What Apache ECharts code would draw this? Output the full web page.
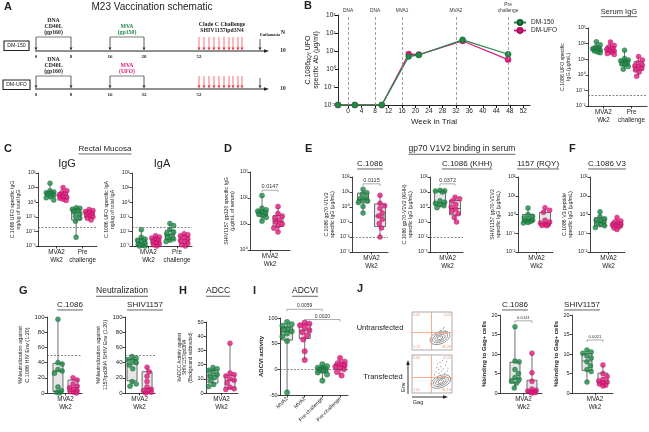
<!DOCTYPE html>
<html><head><meta charset="utf-8">
<script src="https://cdn.jsdelivr.net/npm/echarts@6/dist/echarts.min.js"></script>
<style>html,body{margin:0;padding:0;background:#fff}#c{width:649px;height:432px}</style>
</head><body><div id="c"></div>
<script>
// ================= DATA =================
// Panel A (schematic)
const schemGroups = ['DM-150', 'DM-UFO'];
const schemWeeksRow1 = ['0', '8', '16', '28', '52'];
const schemWeeksRow2 = ['0', '8', '16', '32', '52'];
const schemN = ['10', '10'];
// Panel B
const bWeeks = [-3, 2, 10, 18, 21, 34, 47.5];
const bDM150 = [0.01, 0.01, 0.01, 5.0, 6.0, 42, 6.6];
const bDMUFO = [0.01, 0.01, 0.01, 6.8, 6.3, 36, 3.3];
const bEventWeeks = [0, 8, 16, 32, 47.5];
const bEventLabels = ['DNA', 'DNA', 'MVA1', 'MVA2', 'Pre\nchallenge'];
const bTicks = [0, 4, 8, 12, 16, 20, 24, 28, 32, 36, 40, 44, 48, 52];
// Category labels
const twoGroupLabels = ['MVA2\nWk2', 'Pre\nchallenge'];
const oneGroupLabels = ['MVA2\nWk2'];
const adcviLabels = ['MVA2', 'MVA2', 'Pre-challenge', 'Pre-challenge'];
// Serum IgG (green MVA2, pink MVA2, green Pre, pink Pre)
const serumPts = [
  [130, 85, 60, 52, 46, 42, 38, 33, 29, 26],
  [125, 75, 62, 48, 42, 38, 33, 27, 23, 20],
  [38, 11, 9, 8, 7, 6, 5, 4.5, 3.4, 2.3],
  [15, 9, 6, 4.2, 3.6, 3.1, 2.6, 2, 1.5, 0.8]];
const serumBox = [[26, 32, 44, 62, 130], [20, 28, 40, 68, 125], [2.3, 4, 6.5, 9, 38], [0.8, 1.9, 3.3, 7, 15]];
const serumCutoff = 0.05;
// C Rectal IgG
const cIggPts = [
  [20, 6, 5, 4.5, 4, 3.5, 3, 2.5, 2, 1.4],
  [10, 6, 4.5, 4, 3.2, 2.6, 2.2, 1.9, 1.6, 1.3],
  [0.42, 0.38, 0.33, 0.28, 0.22, 0.16, 0.11, 0.08, 0.05, 0.004],
  [0.32, 0.27, 0.23, 0.2, 0.17, 0.14, 0.12, 0.1, 0.08, 0.06]];
const cIggBox = [[1.4, 2.4, 3.7, 5.2, 20], [1.3, 1.8, 2.9, 4.5, 10], [0.004, 0.06, 0.19, 0.34, 0.42], [0.06, 0.09, 0.15, 0.24, 0.32]];
// C Rectal IgA
const cIgaPts = [
  [0.013, 0.004, 0.003, 0.0025, 0.002, 0.0016, 0.0013, 0.0011, 0.001, 0.001],
  [0.005, 0.0042, 0.0035, 0.003, 0.0025, 0.002, 0.0017, 0.0014, 0.0012, 0.001],
  [0.035, 0.025, 0.013, 0.009, 0.007, 0.005, 0.004, 0.003, 0.0025, 0.002],
  [0.007, 0.006, 0.005, 0.004, 0.003, 0.0024, 0.002, 0.0015, 0.0012, 0.001]];
const cIgaBox = [[0.001, 0.0011, 0.0018, 0.003, 0.013], [0.001, 0.0013, 0.0022, 0.0033, 0.005], [0.002, 0.0028, 0.006, 0.012, 0.035], [0.001, 0.0015, 0.0027, 0.0048, 0.007]];
const mucosaCutoff = 0.02;
// D
const dPts = [[125, 40, 35, 31, 28, 26, 24, 21, 18, 13], [47, 25, 20, 17, 14, 12, 10, 8.5, 7, 5]];
const dBox = [[13, 20, 26, 33, 125], [5, 8, 12.5, 21, 47]];
const dP = ['0.0147'];
// E C.1086
const e1Pts = [[15, 9, 7, 4, 3.5, 3, 2.5, 2, 1.1, 0.4], [6, 1.8, 1.2, 0.8, 0.4, 0.25, 0.15, 0.08, 0.04, 0.01]];
const e1Box = [[0.4, 1.9, 3.2, 8.5, 15], [0.01, 0.05, 0.25, 1.6, 6]];
const e1P = ['0.0115'];
// E C.1086 (KHH)
const e2Pts = [[13, 12, 11.5, 10, 2.6, 2.1, 1.8, 1.5, 1.2, 0.9], [4.5, 3.5, 2.5, 1.5, 1.0, 0.7, 0.5, 0.35, 0.2, 0.1]];
const e2Box = [[0.9, 1.2, 1.9, 11.5, 13], [0.1, 0.3, 0.8, 2.7, 4.5]];
const e2P = ['0.0372'];
const eCutoff = 0.01;
// E 1157 (RQY)
const e3Pts = [[2.2, 1.0, 0.8, 0.65, 0.55, 0.5, 0.45, 0.42, 0.38, 0.35], [2.3, 1.7, 1.3, 0.5, 0.4, 0.35, 0.3, 0.28, 0.26, 0.25]];
const e3Box = [[0.35, 0.4, 0.52, 1.0, 2.2], [0.25, 0.27, 0.33, 1.3, 2.3]];
// F
const fPts = [[1.4, 0.75, 0.6, 0.5, 0.45, 0.4, 0.35, 0.3, 0.25, 0.2], [0.7, 0.45, 0.4, 0.35, 0.3, 0.28, 0.25, 0.22, 0.19, 0.16]];
const fBox = [[0.2, 0.24, 0.4, 0.68, 1.4], [0.16, 0.21, 0.28, 0.4, 0.7]];
// G neutralization
const g1Pts = [[97, 40, 38, 31, 29, 26, 8, 3, 1, 0], [20, 17, 12, 9, 7, 5, 3, 2, 1, 0]];
const g1Box = [[0, 2, 29, 39, 97], [0, 2, 7, 17, 20]];
const g2Pts = [[48, 46, 44, 42, 40, 37, 32, 15, 12, 9], [34, 28, 22, 15, 8, 5, 3, 2, 1, 0]];
const g2Box = [[9, 16, 38, 44, 48], [0, 1.5, 6, 28, 34]];
const neutCutoff = 50;
// H ADCC
const hPts = [[18, 17, 16, 15, 13, 12, 11, 9, 6, 4.5], [35, 14, 13, 12, 10, 9, 7, 4, 3, 2.5]];
const hBox = [[4.5, 7, 12.5, 16, 18], [2.5, 3.5, 9, 12.5, 35]];
// I ADCVI
const iPts = [
  [92, 88, 85, 80, 77, 74, 70, 64, 55, -45],
  [91, 89, 86, 82, 76, 72, 66, 58, 35, 18],
  [10, 6, 3, 2, 0, -1, -3, -6, -10, -22],
  [22, 15, 12, 10, 8, 5, 3, 0, -5, -12]];
const iBox = [[-45, 57, 73, 82, 92], [18, 60, 76, 88, 91], [-22, -6, -0.5, 3, 10], [-12, 0, 6, 11, 22]];
const iP = ['0.0059', '0.0020'];
// J
const j1Pts = [[17, 8.2, 8, 6, 5, 4, 3.5, 3, 2.5, 1.3], [10.2, 5.2, 3, 1, 0.7, 0.5, 0.3, 0.2, 0.1, 0]];
const j1Box = [[1.3, 2.6, 3.6, 7.9, 17], [0, 0.15, 0.6, 3.3, 10.2]];
const j1P = ['0.0141'];
const j2Pts = [[11, 10.5, 10.2, 9.5, 9, 8, 7, 6, 5.5, 2.8], [7.2, 5, 4.2, 3.5, 3.1, 2.8, 2.5, 2.3, 2, 1.8]];
const j2Box = [[2.8, 5.8, 8.2, 10.1, 11], [1.8, 2.3, 3, 5.1, 7.2]];
const j2P = ['0.0021'];
// Flow plots (J)
const flowUntransQ = ['0.00', '0.00', '1.12', '98.28'];
const flowTransQ = ['0.00', '7.20', '2.61', '90.18'];
const flowUntransCenter = [70, 32];
const flowTransCenter = [72, 30];
const flowUntransDots = [[72, 52], [78, 56], [84, 50], [66, 46], [88, 44], [80, 60], [60, 40]];
const flowTransDots = [[60, 55], [66, 62], [72, 70], [78, 64], [84, 74], [70, 80], [62, 68], [88, 58], [76, 86], [82, 52], [68, 52], [74, 58], [90, 66], [64, 76], [80, 92], [56, 48], [86, 82]];
const flowUntransGate = [47, 47];
const flowTransGate = [47, 42];

// ================= STYLE / LAYOUT =================
const GREEN = '#1f8a47', PINK = '#e3197d', GREEN_D = '#0e5a2b', PINK_D = '#9e0f55';
const FONT = 'Liberation Sans, Arial, Helvetica, sans-serif';
const SERIF = 'Liberation Serif, DejaVu Serif, serif';
const grids = [], xAxes = [], yAxes = [], series = [], graphics = [];
const SUP = {'-': '\u207B', '0': '\u2070', '1': '\u00B9', '2': '\u00B2', '3': '\u00B3', '4': '\u2074'};
function supFmt(v) { const e = Math.round(Math.log10(v)); return '10' + String(e).split('').map(c => SUP[c]).join(''); }

const measureCtx = document.createElement('canvas').getContext('2d');
function txt(x, y, text, o) {
  o = o || {};
  const st = {text: text, fill: o.color || '#222', fontSize: o.size || 6, fontFamily: o.font || FONT,
    fontWeight: o.weight || 'normal', align: o.align || 'center', verticalAlign: o.va || 'middle',
    textAlign: o.align || 'center', textVerticalAlign: o.va || 'middle'};
  if (o.lh) st.lineHeight = o.lh;
  graphics.push({type: 'text', x: x, y: y, silent: true, z: 100, style: st});
  if (o.underline) {
    measureCtx.font = (o.weight || 'normal') + ' ' + (o.size || 6) + 'px ' + (o.font || FONT);
    const w = measureCtx.measureText(text).width;
    seg(x - w / 2, y + (o.size || 6) * 0.62, x + w / 2, y + (o.size || 6) * 0.62, '#222', 0.7);
  }
}
function seg(x1, y1, x2, y2, color, w, dash) {
  graphics.push({type: 'line', silent: true, z: 100, shape: {x1, y1, x2, y2}, style: {stroke: color || '#222', lineWidth: w || 0.8, lineDash: dash || null}});
}
function tri(points, color) { graphics.push({type: 'polygon', silent: true, z: 100, shape: {points}, style: {fill: color}}); }
function arrowDown(x, y1, y2, color, w) { seg(x, y1, x, y2 - 2.5, color, w || 0.8); tri([[x - 1.5, y2 - 3], [x + 1.5, y2 - 3], [x, y2]], color); }

// deterministic compact swarm: keep points inside the box width, allow overlap like the reference
function swarm(vals, center, p, size) {
  const H = p.b - p.t, W = p.r - p.l, unit = W / (p.xmax - p.xmin);
  const toPx = v => p.log ? (Math.log10(v) - Math.log10(p.ymin)) / (Math.log10(p.ymax) - Math.log10(p.ymin)) * H
                          : (v - p.ymin) / (p.ymax - p.ymin) * H;
  const maxOff = p.boxW * 0.42;
  const placed = [], out = [];
  vals.forEach(v => {
    const py = toPx(v);
    let best = 0, bestScore = -Infinity;
    for (let k = 0; k <= 12; k++) {
      const cand = k === 0 ? 0 : (k % 2 ? 1 : -1) * Math.ceil(k / 2) * (maxOff / 6);
      let dmin = size;
      placed.forEach(q => { dmin = Math.min(dmin, Math.hypot(q[0] - cand, q[1] - py)); });
      const score = dmin - Math.abs(cand) * 0.15;
      if (score > bestScore + 1e-9) { bestScore = score; best = cand; }
    }
    placed.push([best, py]);
    out.push([center + best / unit, v]);
  });
  return out;
}

function boxRenderer(w) {
  return function (params, api) {
    const x = api.value(0);
    const c = [1, 2, 3, 4, 5].map(d => api.coord([x, api.value(d)]));
    const cx = c[0][0];
    const st = {stroke: '#333', lineWidth: 0.7};
    return {type: 'group', children: [
      {type: 'line', shape: {x1: cx, y1: c[0][1], x2: cx, y2: c[1][1]}, style: st},
      {type: 'line', shape: {x1: cx, y1: c[3][1], x2: cx, y2: c[4][1]}, style: st},
      {type: 'rect', shape: {x: cx - w / 2, y: c[3][1], width: w, height: c[1][1] - c[3][1]}, style: {fill: '#e6e6e6', stroke: '#333', lineWidth: 0.7}},
      {type: 'line', shape: {x1: cx - w / 2, y1: c[2][1], x2: cx + w / 2, y2: c[2][1]}, style: st}
    ]};
  };
}
function bracketRenderer(labels, fs) {
  return function (params, api) {
    const a = api.coord([api.value(0), api.value(2)]), b = api.coord([api.value(1), api.value(2)]);
    return {type: 'group', children: [
      {type: 'polyline', shape: {points: [[a[0], a[1] + 2], [a[0], a[1]], [b[0], b[1]], [b[0], b[1] + 2]]}, style: {stroke: '#888', lineWidth: 0.7, fill: null}},
      {type: 'text', x: (a[0] + b[0]) / 2, y: a[1] - 0.8, style: {text: labels[params.dataIndex], fontSize: fs, fill: '#333', fontFamily: FONT, align: 'center', verticalAlign: 'bottom'}}
    ]};
  };
}

function addBoxPanel(p, pts, box, labels, labelPos) {
  const gi = grids.length;
  grids.push({left: p.l, top: p.t, width: p.r - p.l, height: p.b - p.t});
  xAxes.push({type: 'value', gridIndex: gi, min: p.xmin, max: p.xmax, splitLine: {show: false},
    axisLine: {onZero: false, lineStyle: {color: '#111', width: 0.8}},
    axisTick: {customValues: labelPos, length: 2.5, lineStyle: {color: '#111', width: 0.8}},
    axisLabel: {customValues: labelPos, formatter: v => labels[labelPos.indexOf(v)], fontSize: p.xfs || 6.3, color: '#222', lineHeight: 7.5, margin: 3, rotate: p.rotate || 0}});
  yAxes.push({type: p.log ? 'log' : 'value', logBase: 10, gridIndex: gi, min: p.ymin, max: p.ymax, interval: p.log ? undefined : p.interval,
    splitLine: {show: false}, axisLine: {show: true, onZero: false, lineStyle: {color: '#111', width: 0.8}},
    axisTick: {show: true, length: 2.5, lineStyle: {color: '#111', width: 0.8}},
    axisLabel: {fontSize: p.yfs || 5.2, color: '#222', margin: 2.5, formatter: p.log ? supFmt : null},
    name: p.yName, nameLocation: 'middle', nameGap: p.nameGap, nameTextStyle: {fontSize: p.nfs || 5.2, lineHeight: p.nlh || 6.5, color: '#222', fontWeight: p.nfw || 'normal'}});
  series.push({type: 'custom', xAxisIndex: gi, yAxisIndex: gi, silent: true, clip: false, z: 2,
    data: box.map((b, i) => [i + 1].concat(b)), encode: {x: 0, y: [1, 2, 3, 4, 5]}, renderItem: boxRenderer(p.boxW)});
  const ps = p.ps || 5;
  const gData = [], pData = [];
  pts.forEach((vals, i) => { (i % 2 === 0 ? gData : pData).push(...swarm(vals, i + 1, p, ps)); });
  const ml = p.dash !== undefined ? {symbol: 'none', silent: true, label: {show: false}, lineStyle: {type: [2, 1.5], color: '#555', width: 0.7}, data: [{yAxis: p.dash}]} : undefined;
  series.push({type: 'scatter', xAxisIndex: gi, yAxisIndex: gi, silent: true, z: 3, symbolSize: ps, data: gData,
    itemStyle: {color: GREEN, borderColor: GREEN_D, borderWidth: 0.4}, markLine: ml});
  series.push({type: 'scatter', xAxisIndex: gi, yAxisIndex: gi, silent: true, z: 3, symbolSize: ps, data: pData,
    itemStyle: {color: PINK, borderColor: PINK_D, borderWidth: 0.4}});
  if (p.brackets) {
    series.push({type: 'custom', xAxisIndex: gi, yAxisIndex: gi, silent: true, clip: false, z: 4,
      data: p.brackets, encode: {x: [0, 1], y: 2}, renderItem: bracketRenderer(p.pLabels, p.pfs || 5.5)});
  }
}

// ---------- Panel A : schematic ----------
txt(4, 7, 'A', {size: 11, weight: 'bold', align: 'left'});
txt(152, 7, 'M23 Vaccination schematic', {size: 10});
const rowY = [51, 89], rowTop = [37, 76], boxRect = [[4, 41, 25, 9.5], [3, 80, 27, 9.5]];
const armX = [36, 71, 110, 144], chalX = [199, 204, 209, 214, 219, 224, 229, 233, 238, 242], euthX = 260;
[0, 1].forEach(r => {
  const y = rowY[r];
  graphics.push({type: 'rect', silent: true, z: 100, shape: {x: boxRect[r][0], y: boxRect[r][1], width: boxRect[r][2], height: boxRect[r][3]}, style: {fill: '#fff', stroke: '#222', lineWidth: 1.1}});
  txt(boxRect[r][0] + boxRect[r][2] / 2, boxRect[r][1] + boxRect[r][3] / 2, schemGroups[r], {size: 5.2});
  seg(35, y, 266, y, '#222', 1.1);
  tri([[264, y - 1.8], [264, y + 1.8], [269, y]], '#222');
  armX.forEach(x => arrowDown(x, rowTop[r], y - 0.5, '#333'));
  chalX.forEach(x => arrowDown(x, rowTop[r], y - 0.5, '#f0333f', 0.7));
  arrowDown(euthX, rowTop[r] + 2, y - 0.5, '#333');
  const wl = r === 0 ? schemWeeksRow1 : schemWeeksRow2;
  [36, 71, 110, 144, 199].forEach((x, i) => txt(x, y + 5.5, wl[i], {size: 5, font: SERIF, weight: 'bold'}));
  seg(36, rowTop[r], 71, rowTop[r], '#444', 0.7);
  seg(110, rowTop[r], 144, rowTop[r], '#444', 0.7);
  txt(283, y, schemN[r], {size: 5.5, font: SERIF, weight: 'bold'});
  const ty = rowTop[r];
  txt(53.5, ty - 16, 'DNA', {size: 5.8, font: SERIF, weight: 'bold'});
  txt(53.5, ty - 10, 'CD40L', {size: 5.8, font: SERIF, weight: 'bold'});
  txt(53.5, ty - 4, '(gp160)', {size: 5.8, font: SERIF, weight: 'bold'});
  txt(127, ty - 10.5, 'MVA', {size: 5.8, font: SERIF, weight: 'bold', color: r === 0 ? GREEN : PINK});
  txt(127, ty - 4.5, r === 0 ? '(gp150)' : '(UFO)', {size: 5.8, font: SERIF, weight: 'bold', color: r === 0 ? GREEN : PINK});
});
txt(222, 25, 'Clade C Challenge', {size: 5.8, font: SERIF, weight: 'bold'});
txt(222, 31, 'SHIV1157ipd3N4', {size: 5.8, font: SERIF, weight: 'bold'});
txt(270, 35, 'Euthanasia', {size: 4.2, font: SERIF, weight: 'bold'});
txt(283, 32, 'N', {size: 6, font: SERIF, weight: 'bold'});

// ---------- Panel B ----------
txt(304, 6, 'B', {size: 11, weight: 'bold', align: 'left'});
{
  const gi = grids.length;
  grids.push({left: 338, top: 15, width: 192, height: 90});
  xAxes.push({type: 'value', gridIndex: gi, min: -3, max: 54, splitLine: {show: false},
    axisLine: {onZero: false, lineStyle: {color: '#111', width: 0.9}},
    axisTick: {customValues: bTicks, length: 3, lineStyle: {color: '#111'}},
    axisLabel: {customValues: bTicks, fontSize: 6.5, color: '#222', margin: 3},
    name: 'Week in Trial', nameLocation: 'middle', nameGap: 13, nameTextStyle: {fontSize: 8, color: '#222'}});
  yAxes.push({type: 'log', logBase: 10, gridIndex: gi, min: 0.01, max: 1000, splitLine: {show: false},
    axisLine: {show: true, onZero: false, lineStyle: {color: '#111', width: 0.9}},
    axisTick: {show: true, length: 3, lineStyle: {color: '#111'}},
    axisLabel: {fontSize: 6.5, color: '#222', margin: 2.5, formatter: supFmt},
    name: '{a|C.1086}{s|RQY}{a| UFO}\n{a|specific Ab (\u03BCg/ml)}', nameLocation: 'middle', nameGap: 15,
    nameTextStyle: {color: '#222', lineHeight: 8, rich: {a: {fontSize: 7, color: '#222'}, s: {fontSize: 4.5, color: '#222', verticalAlign: 'bottom'}}}});
  series.push({name: 'DM-UFO', type: 'line', xAxisIndex: gi, yAxisIndex: gi, z: 3, symbol: 'circle', symbolSize: 6,
    data: bWeeks.map((w, i) => [w, bDMUFO[i]]), lineStyle: {color: PINK, width: 1.3}, itemStyle: {color: PINK, borderColor: PINK_D, borderWidth: 0.4}});
  series.push({name: 'DM-150', type: 'line', xAxisIndex: gi, yAxisIndex: gi, z: 4, symbol: 'circle', symbolSize: 6,
    data: bWeeks.map((w, i) => [w, bDM150[i]]), lineStyle: {color: GREEN, width: 1.3}, itemStyle: {color: GREEN, borderColor: GREEN_D, borderWidth: 0.4},
    markLine: {symbol: 'none', silent: true, lineStyle: {type: [3, 2], color: '#9a9a9a', width: 0.9},
      label: {show: true, position: 'end', fontSize: 4.8, color: '#333', lineHeight: 5.5, distance: 2},
      data: bEventWeeks.map((w, i) => ({xAxis: w, label: {formatter: bEventLabels[i]}}))}});
}

// ---------- Serum IgG ----------
txt(619, 12, 'Serum IgG', {size: 7.5, underline: true});
addBoxPanel({l: 588, t: 28, r: 647, b: 106, xmin: 0.4, xmax: 4.6, ymin: 0.01, ymax: 1000, log: true, boxW: 9, dash: serumCutoff,
  yName: 'C.1086 UFO specific\nIgG (\u03BCg/mL)', nameGap: 14, ps: 5}, serumPts, serumBox, twoGroupLabels, [1.5, 3.5]);

// ---------- C ----------
txt(4, 149, 'C', {size: 11, weight: 'bold', align: 'left'});
txt(105, 149, 'Rectal Mucosa', {size: 8, underline: true});
txt(67, 164, 'IgG', {size: 11});
txt(162, 164, 'IgA', {size: 11});
addBoxPanel({l: 38, t: 173, r: 97, b: 246, xmin: 0.08, xmax: 4.6, ymin: 0.001, ymax: 100, log: true, boxW: 9, dash: mucosaCutoff,
  yName: 'C.1086 UFO specific IgG\nng/ug of total IgG', nameGap: 13}, cIggPts, cIggBox, twoGroupLabels, [1.5, 3.5]);
addBoxPanel({l: 132, t: 173, r: 192, b: 246, xmin: 0.35, xmax: 4.55, ymin: 0.001, ymax: 100, log: true, boxW: 9, dash: mucosaCutoff,
  yName: 'C.1086 UFO specific IgA\nng/ug of total IgA', nameGap: 13}, cIgaPts, cIgaBox, twoGroupLabels, [1.5, 3.5]);

// ---------- D ----------
txt(224, 149, 'D', {size: 11, weight: 'bold', align: 'left'});
addBoxPanel({l: 250, t: 172, r: 290, b: 250, xmin: 0.25, xmax: 2.75, ymin: 1, ymax: 1000, log: true, boxW: 10, ps: 5.2,
  yName: 'SHIV1157 gp120 specific IgG\n(\u03BCg/mL of serum)', nameGap: 12,
  brackets: [[1, 2, 200]], pLabels: dP}, dPts, dBox, oneGroupLabels, [1.5]);

// ---------- E ----------
txt(305, 149, 'E', {size: 11, weight: 'bold', align: 'left'});
txt(462, 149, 'gp70 V1V2 binding in serum', {size: 8.5, underline: true});
txt(370, 164, 'C.1086', {size: 8, underline: true});
txt(467, 164, 'C.1086 (KHH)', {size: 8, underline: true});
txt(538, 164, '1157 (RQY)', {size: 8, underline: true});
addBoxPanel({l: 352, t: 177, r: 388, b: 252, xmin: 0.35, xmax: 2.47, ymin: 0.001, ymax: 100, log: true, boxW: 11, dash: eCutoff,
  yName: 'C.1086 gp70-V1V2\nspecific IgG (\u03BCg/mL)', nameGap: 13,
  brackets: [[1, 2, 35]], pLabels: e1P}, e1Pts, e1Box, oneGroupLabels, [1.5]);
addBoxPanel({l: 430, t: 177, r: 463, b: 252, xmin: 0.33, xmax: 2.53, ymin: 0.001, ymax: 100, log: true, boxW: 11, dash: eCutoff,
  yName: 'C.1086 gp70-V1V2 (KHH)\nspecific IgG (\u03BCg/mL)', nameGap: 13,
  brackets: [[1, 2, 35]], pLabels: e2P}, e2Pts, e2Box, oneGroupLabels, [1.5]);
addBoxPanel({l: 518, t: 177, r: 553, b: 252, xmin: 0.41, xmax: 2.47, ymin: 0.01, ymax: 100, log: true, boxW: 11,
  yName: 'SHIV1157 gp70-V1V2\nspecific IgG (\u03BCg/mL)', nameGap: 12}, e3Pts, e3Box, oneGroupLabels, [1.5]);

// ---------- F ----------
txt(569, 149, 'F', {size: 11, weight: 'bold', align: 'left'});
txt(607, 164, 'C.1086 V3', {size: 8, underline: true});
addBoxPanel({l: 590, t: 177, r: 625, b: 252, xmin: 0.41, xmax: 2.47, ymin: 0.01, ymax: 100, log: true, boxW: 11,
  yName: 'C.1086 V3 peptide\nspecific IgG (\u03BCg/mL)', nameGap: 12}, fPts, fBox, oneGroupLabels, [1.5]);

// ---------- G ----------
txt(19, 291, 'G', {size: 11, weight: 'bold', align: 'left'});
txt(122, 291, 'Neutralization', {size: 8.5, underline: true});
txt(70, 305, 'C.1086', {size: 8, underline: true});
txt(145, 305, 'SHIV1157', {size: 8, underline: true});
addBoxPanel({l: 47, t: 317, r: 82, b: 393, xmin: 0.27, xmax: 2.6, ymin: 0, ymax: 100, interval: 20, boxW: 10, dash: neutCutoff, yfs: 6,
  yName: '%Neutralization against\nC.1086 HIV Env (1:20)', nameGap: 13, nfs: 5.5}, g1Pts, g1Box, oneGroupLabels, [1.5]);
addBoxPanel({l: 125, t: 317, r: 155, b: 393, xmin: 0.53, xmax: 2.53, ymin: 0, ymax: 100, interval: 20, boxW: 10, dash: neutCutoff, yfs: 6,
  yName: '%Neutralization against\n1157ipd3N4 SHIV Env (1:20)', nameGap: 13, nfs: 5.5}, g2Pts, g2Box, oneGroupLabels, [1.5]);

// ---------- H ----------
txt(179, 291, 'H', {size: 11, weight: 'bold', align: 'left'});
txt(218, 291, 'ADCC', {size: 8.5, underline: true});
addBoxPanel({l: 206, t: 322, r: 238, b: 393, xmin: 0.59, xmax: 2.47, ymin: 0, ymax: 50, interval: 10, boxW: 10, yfs: 5.5,
  yName: '%ADCC Activity against\nSHIV1157ipd3N4\n(Background subtracted)', nameGap: 10, nfs: 4.6, nlh: 5.6}, hPts, hBox, oneGroupLabels, [1.5]);

// ---------- I ----------
txt(253, 291, 'I', {size: 11, weight: 'bold', align: 'left'});
txt(305, 291, 'ADCVI', {size: 8.5, underline: true});
addBoxPanel({l: 280, t: 318, r: 348, b: 395, xmin: 0.6, xmax: 4.45, ymin: -50, ymax: 100, interval: 50, boxW: 11, dash: 0, ps: 5.5, yfs: 5.5,
  rotate: 45, xfs: 5.2, yName: 'ADCVI activity', nameGap: 12, nfs: 6, nfw: 'bold',
  brackets: [[1, 3, 117], [2, 4, 97]], pLabels: iP, pfs: 5}, iPts, iBox, adcviLabels, [1, 2, 3, 4]);

// ---------- J ----------
txt(357, 289, 'J', {size: 11, weight: 'bold', align: 'left'});
txt(380, 328, 'Untransfected', {size: 7.5});
txt(383, 377, 'Transfected', {size: 7.5});
function addFlow(r, quad, center, dots, gate) {
  const gi = grids.length;
  grids.push({left: r[0], top: r[1], width: r[2] - r[0], height: r[3] - r[1], show: true, borderColor: '#888', borderWidth: 0.7, backgroundColor: '#fff'});
  xAxes.push({type: 'value', gridIndex: gi, min: 0, max: 100, show: false});
  yAxes.push({type: 'value', gridIndex: gi, min: 0, max: 100, show: false});
  const rings = [[21, 12], [16, 8.5], [11, 5.5], [6, 3]];
  series.push({type: 'scatter', xAxisIndex: gi, yAxisIndex: gi, silent: true, z: 3, symbolRotate: 22,
    data: rings.map(s => ({value: center, symbolSize: s})),
    itemStyle: {color: 'rgba(0,0,0,0)', borderColor: '#444', borderWidth: 0.6},
    markLine: {symbol: 'none', silent: true, label: {show: false}, lineStyle: {color: '#f29a72', type: 'solid', width: 0.8},
      data: [{xAxis: gate[0]}, {yAxis: gate[1]}]}});
  series.push({type: 'scatter', xAxisIndex: gi, yAxisIndex: gi, silent: true, z: 3, symbolSize: 1, data: dots, itemStyle: {color: '#444'}});
  const qPos = [[3, 97], [97, 97], [3, 3], [97, 3]];
  series.push({type: 'scatter', xAxisIndex: gi, yAxisIndex: gi, silent: true, z: 4, symbolSize: 0.1,
    data: qPos.map((p, i) => ({value: p, label: {show: true, formatter: quad[i], position: [0, 0], align: i % 2 ? 'right' : 'left',
      verticalAlign: i < 2 ? 'top' : 'bottom', fontSize: 3.6, color: '#ef7e4f'}}))});
}
addFlow([412, 312, 452, 350], flowUntransQ, flowUntransCenter, flowUntransDots, flowUntransGate);
addFlow([412, 355, 452, 393], flowTransQ, flowTransCenter, flowTransDots, flowTransGate);
seg(408, 394, 408, 364, '#222', 0.9); tri([[406.2, 365], [409.8, 365], [408, 360]], '#222');
seg(412, 397, 444, 397, '#222', 0.9); tri([[443, 395.2], [443, 398.8], [448, 397]], '#222');
graphics.push({type: 'text', x: 403, y: 392, rotation: Math.PI / 2, silent: true, z: 100,
  style: {text: 'Env', fontSize: 5.5, fill: '#222', fontFamily: FONT, align: 'left', verticalAlign: 'middle', textAlign: 'left', textVerticalAlign: 'middle'}});
txt(418, 402, 'Gag', {size: 5.5});
txt(515, 305, 'C.1086', {size: 8, underline: true});
txt(582, 305, 'SHIV1157', {size: 8, underline: true});
addBoxPanel({l: 500, t: 315, r: 542, b: 393, xmin: 0.12, xmax: 2.59, ymin: 0, ymax: 20, interval: 5, boxW: 10, yfs: 5.5,
  yName: '%binding to Gag+ cells', nameGap: 9, nfs: 6, nfw: 'bold',
  brackets: [[1, 2, 18.5]], pLabels: j1P, pfs: 4.2}, j1Pts, j1Box, oneGroupLabels, [1.5]);
addBoxPanel({l: 572, t: 315, r: 613, b: 393, xmin: 0.06, xmax: 2.63, ymin: 0, ymax: 20, interval: 5, boxW: 10, yfs: 5.5,
  yName: '%binding to Gag+ cells', nameGap: 9, nfs: 6, nfw: 'bold',
  brackets: [[1, 2, 13.6]], pLabels: j2P, pfs: 4.2}, j2Pts, j2Box, oneGroupLabels, [1.5]);

// ================= CHART =================
const chart = echarts.init(document.getElementById('c'), null, {renderer: 'canvas'});
chart.setOption({
  animation: false,
  backgroundColor: '#fff',
  textStyle: {fontFamily: FONT},
  legend: {left: 508, top: 14, orient: 'vertical', itemWidth: 12, itemHeight: 6, itemGap: 1, data: ['DM-150', 'DM-UFO'],
    textStyle: {fontSize: 6.5, color: '#222'}},
  grid: grids, xAxis: xAxes, yAxis: yAxes, series: series, graphic: graphics
});
</script></body></html>
